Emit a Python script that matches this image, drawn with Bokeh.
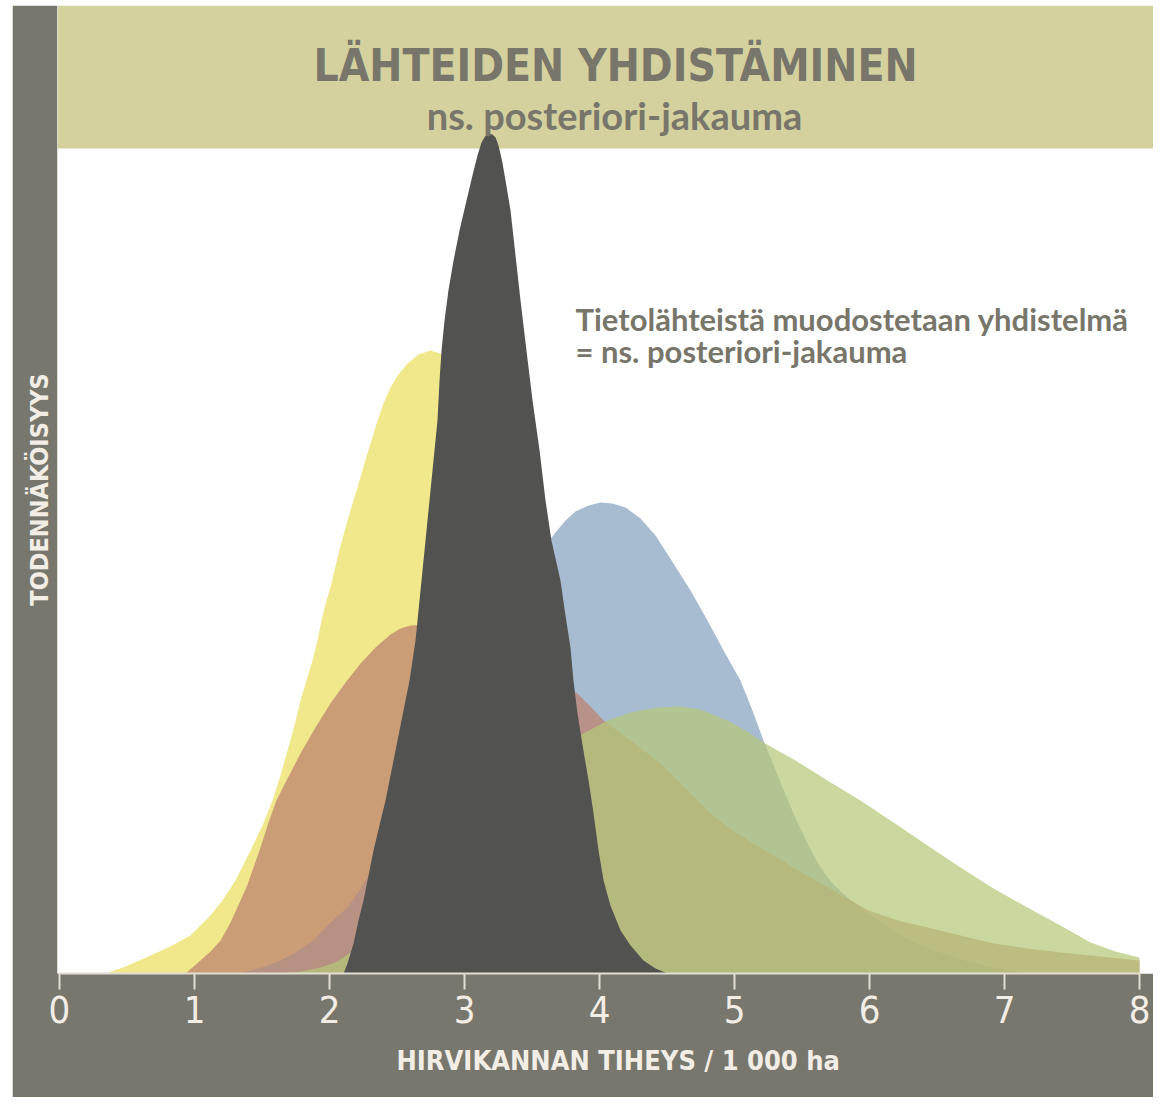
import math
from bokeh.plotting import figure
from bokeh.models import Range1d, Label, FixedTicker, BoxAnnotation, Title, Spacer
from bokeh.layouts import column, row
from bokeh.embed import file_html
from bokeh.resources import INLINE

# ---------------- data ----------------
x_ticks = [0, 1, 2, 3, 4, 5, 6, 7, 8]
x_tick_labels = {0: "0", 1: "1", 2: "2", 3: "3", 4: "4", 5: "5", 6: "6", 7: "7", 8: "8"}

yellow_x = [0.341, 0.489, 0.674, 0.822, 0.970, 1.119, 1.207, 1.304, 1.415, 1.504, 1.578, 1.637, 1.689, 1.741,
            1.785, 1.830, 1.874, 1.911, 1.941, 1.978, 2.007, 2.067, 2.133, 2.207, 2.281, 2.356, 2.400, 2.452,
            2.511, 2.578, 2.659, 2.748, 2.822, 2.933, 3.044, 3.156, 3.267, 3.415, 3.600, 3.822, 4.081, 4.378, 4.600]
yellow_y = [0.000, 0.007, 0.018, 0.027, 0.038, 0.058, 0.073, 0.093, 0.123, 0.148, 0.173, 0.198, 0.223, 0.248,
            0.273, 0.293, 0.313, 0.333, 0.353, 0.373, 0.386, 0.420, 0.453, 0.486, 0.520, 0.553, 0.570, 0.586,
            0.599, 0.610, 0.619, 0.623, 0.620, 0.608, 0.578, 0.533, 0.453, 0.333, 0.193, 0.093, 0.033, 0.003, 0.000]

blue_x = [1.304, 1.415, 1.526, 1.637, 1.748, 1.881, 2.007, 2.133, 2.207, 2.281, 2.526, 2.896, 3.267, 3.489,
          3.674, 3.748, 3.822, 3.919, 4.007, 4.096, 4.193, 4.304, 4.415, 4.548, 4.674, 4.800, 4.911, 5.044,
          5.133, 5.215, 5.326, 5.437, 5.541, 5.637, 5.733, 5.837, 5.985, 6.178, 6.363, 6.548, 6.733, 6.919, 7.193]
blue_y = [0.000, 0.003, 0.007, 0.013, 0.021, 0.033, 0.051, 0.066, 0.080, 0.096, 0.153, 0.253, 0.353, 0.408,
          0.441, 0.453, 0.462, 0.468, 0.471, 0.470, 0.466, 0.455, 0.438, 0.410, 0.383, 0.353, 0.325, 0.293,
          0.263, 0.233, 0.196, 0.160, 0.130, 0.106, 0.089, 0.076, 0.061, 0.042, 0.029, 0.020, 0.012, 0.006, 0.000]

brown_x = [0.933, 0.985, 1.044, 1.119, 1.193, 1.267, 1.341, 1.393, 1.437, 1.489, 1.548, 1.607, 1.689, 1.785,
           1.896, 2.007, 2.119, 2.230, 2.341, 2.452, 2.526, 2.600, 2.748, 2.970, 3.267, 3.563, 3.837, 3.933,
           4.030, 4.230, 4.452, 4.637, 4.822, 5.007, 5.193, 5.437, 5.689, 5.993, 6.207, 6.430, 6.674, 6.919,
           7.170, 7.415, 7.711, 8.000, 8.000]
brown_y = [0.000, 0.006, 0.013, 0.022, 0.033, 0.051, 0.073, 0.089, 0.106, 0.126, 0.151, 0.173, 0.195, 0.220,
           0.246, 0.270, 0.291, 0.310, 0.326, 0.339, 0.345, 0.348, 0.349, 0.343, 0.325, 0.303, 0.280, 0.267,
           0.253, 0.233, 0.210, 0.185, 0.160, 0.141, 0.126, 0.106, 0.086, 0.063, 0.053, 0.046, 0.038, 0.030,
           0.025, 0.021, 0.017, 0.013, 0.000]

green_x = [1.637, 1.785, 1.933, 2.044, 2.104, 2.378, 2.674, 3.044, 3.415, 3.711, 3.881, 4.059, 4.230, 4.430,
           4.600, 4.748, 4.948, 5.081, 5.215, 5.452, 5.689, 5.933, 6.178, 6.430, 6.674, 6.919, 7.170, 7.415,
           7.637, 7.822, 8.000, 8.000]
green_y = [0.000, 0.002, 0.006, 0.011, 0.016, 0.043, 0.083, 0.133, 0.185, 0.225, 0.240, 0.253, 0.261, 0.266,
           0.267, 0.264, 0.253, 0.243, 0.231, 0.213, 0.193, 0.173, 0.151, 0.128, 0.106, 0.085, 0.066, 0.048,
           0.031, 0.022, 0.016, 0.000]

posterior_x = [2.104, 2.133, 2.178, 2.215, 2.252, 2.289, 2.326, 2.370, 2.415, 2.452, 2.489, 2.526, 2.563, 2.593,
               2.615, 2.637, 2.652, 2.689, 2.726, 2.763, 2.800, 2.815, 2.830, 2.852, 2.881, 2.919, 2.963, 3.015,
               3.059, 3.096, 3.126, 3.152, 3.178, 3.207, 3.230, 3.252, 3.278, 3.304, 3.341, 3.378, 3.415, 3.459,
               3.504, 3.556, 3.600, 3.644, 3.711, 3.748, 3.785, 3.807, 3.837, 3.881, 3.919, 3.956, 3.993, 4.030,
               4.081, 4.156, 4.230, 4.326, 4.415, 4.504]
posterior_y = [0.000, 0.010, 0.030, 0.053, 0.073, 0.098, 0.123, 0.148, 0.173, 0.198, 0.223, 0.248, 0.273, 0.293,
               0.313, 0.333, 0.353, 0.403, 0.453, 0.503, 0.553, 0.593, 0.623, 0.653, 0.683, 0.713, 0.743, 0.773,
               0.798, 0.818, 0.831, 0.837, 0.840, 0.839, 0.836, 0.828, 0.813, 0.793, 0.763, 0.718, 0.673, 0.623,
               0.573, 0.523, 0.473, 0.433, 0.393, 0.358, 0.326, 0.293, 0.260, 0.223, 0.193, 0.160, 0.123, 0.093,
               0.068, 0.043, 0.028, 0.013, 0.005, 0.000]

title_text = "LÄHTEIDEN YHDISTÄMINEN"
subtitle_text = "ns. posteriori-jakauma"
note_line1 = "Tietolähteistä muodostetaan yhdistelmä"
note_line2 = "= ns. posteriori-jakauma"
x_title = "HIRVIKANNAN TIHEYS / 1 000 ha"
y_title = "TODENNÄKÖISYYS"

# ---------------- style ----------------
GRAY_BAND = "#78776d"
KHAKI = "#d4d19f"
TEXT_DARK = "#78766a"
TEXT_LIGHT = "#f2eee6"
AXIS_LIGHT = "#e2ded3"
COND = "DejaVu Sans Condensed, Roboto"
HUM = "Lato"

p = figure(width=1141, height=1092,
           x_range=Range1d(-0.0148, 8.1037), y_range=Range1d(0, 0.968),
           output_backend="svg", toolbar_location=None, y_axis_location=None,
           min_border_left=45, min_border_right=0, min_border_top=0, min_border_bottom=124)
p.border_fill_color = GRAY_BAND
p.background_fill_color = "white"
p.outline_line_color = None
p.grid.visible = False

p.add_layout(BoxAnnotation(bottom=0.825, fill_color=KHAKI, fill_alpha=1.0, line_color=None, level="underlay"))

p.patch(yellow_x, yellow_y, fill_color="#efe67f", fill_alpha=0.9, line_color=None)
p.patch(blue_x, blue_y, fill_color="#8aa6c2", fill_alpha=0.75, line_color=None)
p.patch(brown_x, brown_y, fill_color="#bd8470", fill_alpha=0.75, line_color=None)
p.patch(green_x, green_y, fill_color="#b5c878", fill_alpha=0.72, line_color=None)
p.patch(posterior_x, posterior_y, fill_color="#525250", fill_alpha=1.0, line_color=None)

ax = p.xaxis[0]
ax.ticker = FixedTicker(ticks=x_ticks)
ax.major_label_overrides = x_tick_labels
ax.bounds = (0, 8)
ax.axis_line_color = AXIS_LIGHT
ax.axis_line_width = 2
ax.major_tick_line_color = AXIS_LIGHT
ax.major_tick_line_width = 2
ax.major_tick_in = 0
ax.major_tick_out = 16
ax.minor_tick_line_color = None
ax.major_label_text_font = COND
ax.major_label_text_font_size = "38px"
ax.major_label_text_color = TEXT_LIGHT
ax.major_label_standoff = 6

p.add_layout(Title(text=x_title, text_font=COND, text_font_style="bold", text_font_size="27px",
                   text_color=TEXT_LIGHT, align="left", offset=339, standoff=34), "below")
p.add_layout(Title(text=y_title, text_font=COND, text_font_style="bold", text_font_size="25px",
                   text_color=TEXT_LIGHT, align="center", standoff=8), "left")


def px_x(px):
    return (px - 59) / 135.0


def px_y(py):
    return (973 - py) / 1000.0


p.add_layout(Label(x=px_x(615), y=px_y(65), text=title_text, text_font=COND, text_font_style="bold",
                   text_font_size="44px", text_color=TEXT_DARK, text_align="center", text_baseline="middle"))
p.add_layout(Label(x=px_x(614), y=px_y(114), text=subtitle_text, text_font=HUM, text_font_style="bold",
                   text_font_size="38px", text_color=TEXT_DARK, text_align="center", text_baseline="middle"))
p.add_layout(Label(x=px_x(575), y=px_y(318), text=note_line1, text_font=HUM, text_font_style="bold",
                   text_font_size="31px", text_color=TEXT_DARK, text_align="left", text_baseline="middle"))
p.add_layout(Label(x=px_x(575), y=px_y(350), text=note_line2, text_font=HUM, text_font_style="bold",
                   text_font_size="31px", text_color=TEXT_DARK, text_align="left", text_baseline="middle"))

layout = column(Spacer(height=5), row(Spacer(width=12), p))
open("out.html", "w").write(file_html(layout, INLINE))
